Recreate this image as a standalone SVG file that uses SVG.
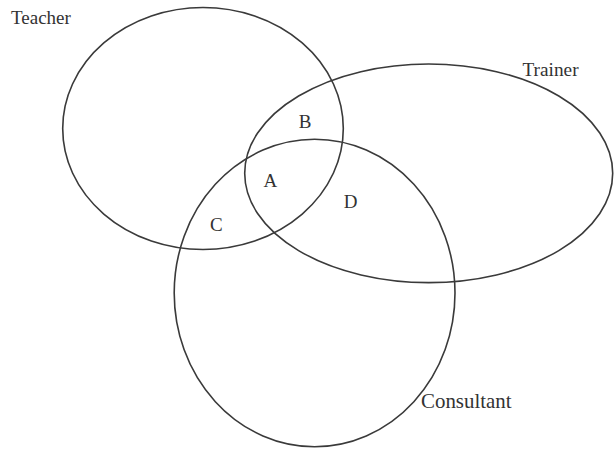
<svg xmlns="http://www.w3.org/2000/svg" width="614" height="451" viewBox="0 0 614 451">
<style>
.set{fill:none;stroke:#3a3a3a;stroke-width:1.6}
.lbl{font-family:"Liberation Serif","Times New Roman",serif;fill:#333}
.rg{font-family:"Liberation Serif","Times New Roman",serif;fill:#333;font-size:19px;text-anchor:middle}
</style>
<rect width="614" height="451" fill="#fff"/>
<g id="teacher">
<ellipse class="set" cx="203" cy="128.5" rx="140.3" ry="121"/>
<text class="lbl" x="11" y="24" font-size="19">Teacher</text>
</g>
<g id="trainer">
<ellipse class="set" cx="428.7" cy="173.3" rx="184" ry="109.3"/>
<text class="lbl" x="522.5" y="76" font-size="19.3">Trainer</text>
</g>
<g id="consultant">
<ellipse class="set" cx="314.6" cy="293" rx="140.4" ry="153.7"/>
<text class="lbl" x="421" y="408.3" font-size="20.9">Consultant</text>
</g>
<g id="regions">
<text class="rg" x="305" y="128.3">B</text>
<text class="rg" x="270.3" y="186.7">A</text>
<text class="rg" x="216.3" y="230.7">C</text>
<text class="rg" x="350.5" y="208.3">D</text>
</g>
<g id="connectors"/>
</svg>
